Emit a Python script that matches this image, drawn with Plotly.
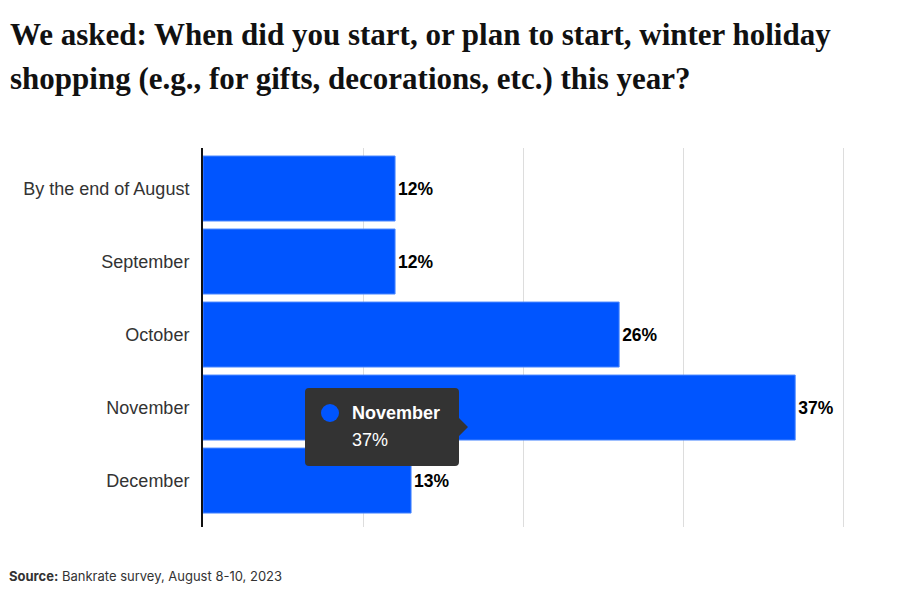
import plotly.graph_objects as go

categories = ["By the end of August", "September", "October", "November", "December"]
values = [12, 12, 26, 37, 13]
value_labels = ["12%", "12%", "26%", "37%", "13%"]
x_ticks = [0, 10, 20, 30, 40]

title_line1 = "We asked: When did you start, or plan to start, winter holiday"
title_line2 = "shopping (e.g., for gifts, decorations, etc.) this year?"
tooltip_name = "November"
tooltip_value = "37%"

BLUE = "#0055FF"

fig = go.Figure()
fig.add_trace(go.Bar(
    y=categories, x=values, orientation="h",
    marker=dict(color=BLUE, line=dict(color="#4a88ff", width=1)),
    text=value_labels, textposition="outside", cliponaxis=False,
    textfont=dict(family="Liberation Sans, Arial", size=17.5, color="#000000"),
    texttemplate="<b>%{text}</b>",
    hoverinfo="skip", width=0.89,
))

L, R, T, B = 203, 76, 148, 71
W, H = 924, 598
pw, ph = W - L - R, H - T - B

def px(x):
    return (x - L) / pw

def py(y):
    return (H - B - y) / ph

# tooltip box (rounded) with arrow on the right
x0, x1, y0, y1, r = 305, 459, 388, 466, 4
tip_x, tip_y = 468, 427
path = (
    f"M {px(x0 + r)} {py(y0)} L {px(x1 - r)} {py(y0)} "
    f"Q {px(x1)} {py(y0)} {px(x1)} {py(y0 + r)} "
    f"L {px(x1)} {py(tip_y - 9)} L {px(tip_x)} {py(tip_y)} L {px(x1)} {py(tip_y + 9)} "
    f"L {px(x1)} {py(y1 - r)} Q {px(x1)} {py(y1)} {px(x1 - r)} {py(y1)} "
    f"L {px(x0 + r)} {py(y1)} Q {px(x0)} {py(y1)} {px(x0)} {py(y1 - r)} "
    f"L {px(x0)} {py(y0 + r)} Q {px(x0)} {py(y0)} {px(x0 + r)} {py(y0)} Z"
)
fig.add_shape(type="path", path=path, xref="paper", yref="paper",
              fillcolor="#333333", line=dict(width=0), layer="above")
fig.add_shape(type="circle", xref="paper", yref="paper",
              x0=px(321), x1=px(339), y0=py(404), y1=py(422),
              fillcolor=BLUE, line=dict(width=0), layer="above")
fig.add_annotation(xref="paper", yref="paper", x=px(350), y=py(413),
                   xanchor="left", yanchor="middle", showarrow=False,
                   text=f"<b>{tooltip_name}</b>",
                   font=dict(family="Liberation Sans, Arial", size=18, color="#ffffff"))
fig.add_annotation(xref="paper", yref="paper", x=px(350), y=py(440),
                   xanchor="left", yanchor="middle", showarrow=False,
                   text=tooltip_value,
                   font=dict(family="Liberation Sans, Arial", size=18, color="#ffffff"))

# title lines
fig.add_annotation(xref="paper", yref="paper", x=px(8), y=py(35),
                   xanchor="left", yanchor="middle", showarrow=False,
                   text=f"<b>{title_line1}</b>",
                   font=dict(family="Liberation Serif, serif", size=31, color="#111111"))
fig.add_annotation(xref="paper", yref="paper", x=px(8), y=py(78),
                   xanchor="left", yanchor="middle", showarrow=False,
                   text=f"<b>{title_line2}</b>",
                   font=dict(family="Liberation Serif, serif", size=31, color="#111111"))
# source
fig.add_annotation(xref="paper", yref="paper", x=px(7), y=py(576),
                   xanchor="left", yanchor="middle", showarrow=False,
                   text="<b>Source:</b> Bankrate survey, August 8-10, 2023",
                   font=dict(family="Inter, Roboto, sans-serif", size=13, color="#333333"))

fig.update_layout(
    width=W, height=H,
    margin=dict(l=L, r=R, t=T, b=B),
    paper_bgcolor="#ffffff", plot_bgcolor="#ffffff",
    showlegend=False,
    xaxis=dict(range=[0, 40.3], tickvals=x_ticks, showticklabels=False,
               showgrid=True, gridcolor="#dddddd", gridwidth=1,
               zeroline=False, showline=False, fixedrange=True),
    yaxis=dict(categoryorder="array", categoryarray=categories,
               range=[4.636, -0.555], showgrid=False, zeroline=False,
               showline=True, linecolor="#111111", linewidth=2,
               ticks="", ticklabelstandoff=8,
               tickfont=dict(family="Liberation Sans, Arial", size=18, color="#333333"),
               fixedrange=True),
    hovermode=False,
)

fig.write_html("out.html", config={"displayModeBar": False},
               post_script="document.body.style.margin='0';document.body.style.padding='0';document.body.style.overflow='hidden';")
